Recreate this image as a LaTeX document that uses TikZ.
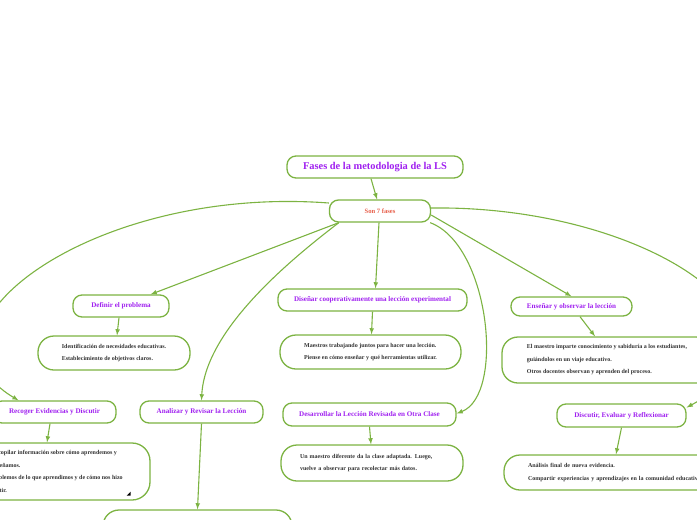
\documentclass[tikz,border=0pt]{standalone}
\usepackage{fontspec}
\setmainfont{Liberation Serif}
\usepackage{tikz}
\usetikzlibrary{shapes,arrows}
\usepackage{xcolor}
\definecolor{lsgreen}{HTML}{7CB342}
\definecolor{lspurple}{HTML}{A020F0}
\definecolor{lsred}{HTML}{E8604C}
\definecolor{lsgray}{HTML}{333333}

\begin{document}
\begin{tikzpicture}[x=1pt,y=-1pt,
   fase/.style={draw=lsgreen,line width=1.3pt,rounded corners=9pt,fill=white,text=lspurple,
     font=\fontsize{7.1}{8}\selectfont\bfseries,minimum height=22pt,inner sep=1pt},
   nota/.style={draw=lsgreen,line width=1.3pt,rounded corners=16pt,fill=white,text=lsgray,
     font=\fontsize{6}{12.5}\selectfont\bfseries,align=left,inner sep=1pt},
   flecha/.style={draw=lsgreen,line width=1.1pt,-latex}]
   \useasboundingbox (0,0) rectangle (697,520);
   \clip (0,0) rectangle (697,520);
   \node[fase,minimum width=176pt,font=\fontsize{10.4}{12}\selectfont\bfseries] (titulo) at (375,167) {Fases de la metodologia de la LS};
   \node[fase,minimum width=101pt,text=lsred,font=\fontsize{6.6}{8}\selectfont\bfseries] (son) at (380,211) {Son 7 fases};
   \node[fase,minimum width=96pt] (definir) at (121,306) {Definir el problema};
   \node[nota,minimum width=152pt,minimum height=34pt] (ident) at (114,353) {Identificación de necesidades educativas.\\Establecimiento de objetivos claros.};
   \node[fase,minimum width=189pt] (disenar) at (372.5,300) {Diseñar cooperativamente una lección experimental};
   \node[nota,minimum width=181pt,minimum height=34pt] (maestros) at (370.5,352) {Maestros trabajando juntos para hacer una lección.\\Piense en cómo enseñar y qué herramientas utilizar.};
   \node[fase,minimum width=121pt,minimum height=19pt] (ensenar) at (571.5,306.5) {Enseñar y observar la lección};
   \node[nota,minimum width=210pt,minimum height=46pt] (elmaestro) at (607,360) {El maestro imparte conocimiento y sabiduría a los estudiantes,\\guiándolos en un viaje educativo.\\Otros docentes observan y aprenden del proceso.};
   \node[fase,minimum width=123pt] (recoger) at (54.5,412) {Recoger Evidencias y Discutir};
   \node[nota,minimum width=186pt,minimum height=57pt,rounded corners=18pt] (recopilar) at (57,471.5) {Recopilar información sobre cómo aprendemos y\\enseñamos.\\Hablemos de lo que aprendimos y de cómo nos hizo\\sentir.};
   \node[fase,minimum width=123pt] (analizar) at (201.5,412) {Analizar y Revisar la Lección};
   \node[nota,minimum width=189pt,minimum height=40pt] (revisar) at (197.5,530) {};
   \node[fase,minimum width=173pt,minimum height=23pt] (desarrollar) at (369.5,414.5) {Desarrollar la Lección Revisada en Otra Clase};
   \node[nota,minimum height=36pt,inner xsep=19pt,text width=144pt] (unmaestro) at (372,463) {Un maestro diferente da la clase adaptada. Luego,\\vuelve a observar para recolectar más datos.};
   \node[fase,minimum width=129pt,minimum height=23pt] (discutir) at (621.5,415.5) {Discutir, Evaluar y Reflexionar};
   \node[nota,minimum height=35pt,inner xsep=24pt,text width=200pt] (analisis) at (628,472.5) {Análisis final de nueva evidencia.\\Compartir experiencias y aprendizajes en la comunidad educativa};
   \fill[black] ([shift={(-24pt,5pt)}]recopilar.south east) -- ++(4pt,0pt) -- ++(0pt,4pt) -- cycle;
   \draw[flecha] ([xshift=-4pt]titulo.south) -- ([xshift=-3pt]son.north);
   \draw[flecha] ([xshift=10pt]son.south west) -- ([xshift=-19pt]definir.north east);
   \draw[flecha] ([xshift=-1pt]son.south) -- ([xshift=3pt]disenar.north);
   \draw[flecha] ([yshift=-4pt]son.east) -- (ensenar.north);
   \draw[flecha] ([xshift=10pt]son.south west) .. controls (290,260) and (205,330) .. (analizar.north);
   \draw[flecha] ([yshift=8pt]son.west) .. controls (90,185) and (-100,330) .. ([xshift=-36pt]recoger.north);
   \draw[flecha] ([xshift=-1pt]son.south east) .. controls (490,245) and (505,395) .. ([yshift=1pt]desarrollar.east);
   \draw[flecha] ([yshift=3pt]son.east) .. controls (650,205) and (830,330) .. ([yshift=8pt]discutir.east);
   \draw[flecha] ([xshift=-2pt]definir.south) -- ([xshift=3pt]ident.north);
   \draw[flecha] (disenar.south) -- ([xshift=1pt]maestros.north);
   \draw[flecha] ([xshift=8.5pt]ensenar.south) -- ([xshift=-12pt]elmaestro.north);
   \draw[flecha] ([xshift=-4.5pt]recoger.south) -- ([xshift=-10pt]recopilar.north);
   \draw[flecha] (analizar.south) -- (revisar.north);
   \draw[flecha] (desarrollar.south) -- ([xshift=-1pt]unmaestro.north);
   \draw[flecha] (discutir.south) -- ([xshift=-12pt]analisis.north);
  \end{tikzpicture}
\end{document}
